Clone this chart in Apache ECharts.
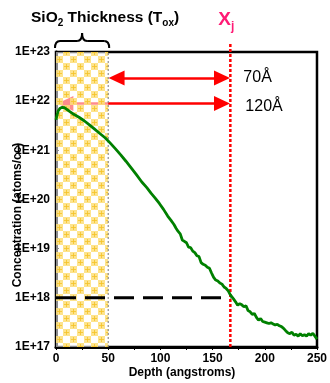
<!DOCTYPE html>
<html>
<head>
<meta charset="utf-8">
<script src="https://cdn.jsdelivr.net/npm/echarts@6/dist/echarts.min.js"></script>
<style>html,body{margin:0;padding:0;background:#fff;}#c{width:330px;height:383px;}</style>
</head>
<body>
<div id="c"></div>
<script>
// Depth (angstroms) and concentration (atoms/cc) read from the profile
var depth = [0,1,2,4,6,8,10,13,17,22,27,32,37,42,47,52,57,62,67,72,77,82,87,91,95,99,103,107,110,113,115,117,119,121,123,125,127,129,131,133,135,137,139,141,143,145,147,149,151,153,155,157,159,161,163,165,167,168,170,172,174,176,178,180,182,184,186,188,190,192,194,196,198,200,202,204,206,208,210,212,214,216,218,220,222,224,226,228,230,232,234,236,238,240,242,244,246,248,250];
var conc = [4.2e21,5.2e21,6.3e21,7.2e21,7.5e21,7.4e21,6.9e21,6.2e21,5.4e21,4.7e21,4.0e21,3.3e21,2.7e21,2.2e21,1.8e21,1.4e21,1.07e21,8.1e20,6.0e20,4.4e20,3.2e20,2.3e20,1.74e20,1.35e20,1.07e20,8.3e19,6.3e19,4.6e19,3.8e19,3.1e19,2.6e19,2.24e19,2.0e19,1.5e19,1.41e19,1.32e19,1.07e19,1.05e19,8.9e18,8.3e18,7.2e18,6.9e18,5.2e18,4.8e18,4.6e18,4.2e18,4.0e18,3.2e18,2.6e18,2.3e18,2.2e18,2.0e18,1.9e18,1.66e18,1.55e18,1.38e18,1.15e18,1.23e18,9.5e17,8.3e17,7.1e17,7.6e17,7.2e17,6.6e17,6.9e17,5.5e17,5.2e17,4.6e17,4.8e17,4.0e17,3.5e17,3.8e17,3.3e17,3.2e17,3.1e17,3.0e17,3.1e17,2.95e17,2.8e17,2.9e17,2.7e17,2.6e17,2.4e17,2.15e17,1.95e17,1.86e17,2.0e17,1.74e17,1.82e17,1.66e17,1.86e17,1.7e17,1.78e17,1.66e17,1.86e17,1.74e17,1.9e17,1.66e17,1.45e17];
var xTicks = [0, 50, 100, 150, 200, 250];
var yTicks = [1e17, 1e18, 1e19, 1e20, 1e21, 1e22, 1e23];
var toxDepth = 50;          // SiO2 thickness
var xjDepth = 167;          // junction depth
var xjTop = 1.6e23;         // top of Xj marker line (above frame)
var thresholdConc = 1e18;   // dashed level
var arrow70Conc = 2.95e22;
var arrow120Conc = 9e21;
var arrow120Start = 1;

var chart = echarts.init(document.getElementById('c'), null, {renderer: 'canvas'});

// checkerboard pattern for oxide region
var pc = document.createElement('canvas');
pc.width = 14; pc.height = 14;
var g = pc.getContext('2d');
g.fillStyle = 'rgba(255,255,255,0.55)';
g.fillRect(0, 0, 14, 14);
function cell(x, y) {
  g.fillStyle = 'rgba(253,222,120,0.85)';
  g.fillRect(x, y, 7, 7);
  g.fillStyle = 'rgba(245,195,40,0.8)';
  g.fillRect(x + 3, y + 1, 1, 5);
  g.fillRect(x + 1, y + 3, 5, 1);
}
cell(0, 0); cell(7, 7);

var boldFont = 'Liberation Sans, Arial, sans-serif';
var headLen = 8; // half arrowhead length in data units

var option = {
  animation: false,
  backgroundColor: '#fff',
  grid: {left: 56, right: 12, top: 52, bottom: 36, show: true, borderColor: '#000', borderWidth: 2.5, backgroundColor: 'transparent'},
  xAxis: {
    type: 'value', min: 0, max: 250, interval: 50,
    axisLine: {show: true, lineStyle: {color: '#000', width: 3}},
    axisTick: {show: true, length: 3, lineStyle: {color: '#000', width: 1}},
    minorTick: {show: true, splitNumber: 2, length: 3, lineStyle: {color: '#000', width: 1}},
    splitLine: {show: false},
    axisLabel: {color: '#000', fontWeight: 'bold', fontSize: 12, fontFamily: boldFont, margin: 6}
  },
  yAxis: {
    type: 'log', logBase: 10, min: yTicks[0], max: yTicks[yTicks.length - 1], splitNumber: 6,
    axisLine: {show: true, lineStyle: {color: '#000', width: 3}},
    axisTick: {show: true, inside: true, length: 3, lineStyle: {color: '#000'}},
    minorTick: {show: true, splitNumber: 9, length: 2, lineStyle: {color: '#000'}},
    splitLine: {show: false},
    axisLabel: {color: '#000', fontWeight: 'bold', fontSize: 12, fontFamily: boldFont, margin: 6,
      formatter: function (v) { return '1E+' + Math.round(Math.log10(v)); }}
  },
  series: [
    {
      name: 'arrows', type: 'line', data: [], z: 1,
      markLine: {
        silent: true, z: 1, symbol: ['triangle', 'triangle'], symbolSize: [15, 16],
        label: {show: false},
        lineStyle: {color: '#ff0000', width: 2.5, type: 'solid'},
        data: [
          [{coord: [toxDepth + headLen, arrow70Conc]}, {coord: [xjDepth - headLen, arrow70Conc]}],
          [{coord: [arrow120Start + headLen, arrow120Conc]}, {coord: [xjDepth - headLen, arrow120Conc]}]
        ]
      }
    },
    {
      name: 'oxide', type: 'line', data: [], z: 2,
      markArea: {
        silent: true, z: 2,
        itemStyle: {color: {image: pc, repeat: 'repeat'}},
        data: [[{xAxis: 0}, {xAxis: toxDepth}]]
      }
    },
    {
      name: 'oxideEdge', type: 'line', z: 3, symbol: 'none',
      data: [[toxDepth, yTicks[0]], [toxDepth, yTicks[yTicks.length - 1]]],
      lineStyle: {color: '#777', width: 1, type: [2, 2]}
    },
    {
      name: 'threshold', type: 'line', z: 4, symbol: 'none',
      data: [[0, thresholdConc], [xjDepth, thresholdConc]],
      lineStyle: {color: '#000', width: 3, type: [20, 9]}
    },
    {
      name: 'xj', type: 'line', z: 4, symbol: 'none', clip: false,
      data: [[xjDepth, yTicks[0]], [xjDepth, xjTop]],
      lineStyle: {color: '#ff0000', width: 2.5, type: [3, 2]}
    },
    {
      name: 'profile', type: 'line', z: 6, symbol: 'none', smooth: false,
      data: depth.map(function (d, i) { return [d, conc[i]]; }),
      lineStyle: {color: '#008000', width: 2.8}
    }
  ]
};
chart.setOption(option);

var p0 = chart.convertToPixel({gridIndex: 0}, [0, yTicks[yTicks.length - 1]]);
var p1 = chart.convertToPixel({gridIndex: 0}, [toxDepth, yTicks[yTicks.length - 1]]);
var pxj = chart.convertToPixel({gridIndex: 0}, [xjDepth, arrow70Conc]);
var p120 = chart.convertToPixel({gridIndex: 0}, [xjDepth, arrow120Conc]);
var bx0 = p0[0] - 1, bx1 = p1[0] + 1, bm = (bx0 + bx1) / 2;
var yb = p0[1] - 4, ya = p0[1] - 11, yt = p0[1] - 19;
var bs = {fill: null, stroke: '#000', lineWidth: 2};
function qc(x1, y1, cx, cy, x2, y2) {
  return {type: 'bezierCurve', z: 10, shape: {x1: x1, y1: y1, x2: x2, y2: y2, cpx1: cx, cpy1: cy}, style: bs};
}
function ln(x1, y1, x2, y2) {
  return {type: 'line', z: 10, shape: {x1: x1, y1: y1, x2: x2, y2: y2}, style: bs};
}

chart.setOption({
  graphic: [
    qc(bx0, yb, bx0, ya, bx0 + 5, ya),
    ln(bx0 + 5, ya, bm - 5, ya),
    qc(bm - 5, ya, bm, ya, bm, yt),
    qc(bm, yt, bm, ya, bm + 5, ya),
    ln(bm + 5, ya, bx1 - 5, ya),
    qc(bx1 - 5, ya, bx1, ya, bx1, yb),
    {type: 'text', left: 31, top: 10, z: 10, style: {
      text: '{a|SiO}{s|2}{a| Thickness (T}{s|ox}{a|)}',
      rich: {
        a: {fontSize: 15.5, fontWeight: 'bold', fontFamily: boldFont, fill: '#000'},
        s: {fontSize: 10, fontWeight: 'bold', fontFamily: boldFont, fill: '#000', padding: [10, 0, 0, 0]}
      }}},
    {type: 'text', left: pxj[0] - 12, top: 10, z: 10, style: {
      text: '{a|X}{s|j}',
      rich: {
        a: {fontSize: 19, fontWeight: 'bold', fontFamily: boldFont, fill: '#ff1a75'},
        s: {fontSize: 12, fontWeight: 'bold', fontFamily: boldFont, fill: '#ff1a75', padding: [14, 0, 0, 0]}
      }}},
    {type: 'text', x: pxj[0] + 13, y: pxj[1], z: 10, style: {
      text: '70Å', fontSize: 16, fontFamily: boldFont, fill: '#000', verticalAlign: 'middle'}},
    {type: 'text', x: p120[0] + 15, y: p120[1] + 3, z: 10, style: {
      text: '120Å', fontSize: 16, fontFamily: boldFont, fill: '#000', verticalAlign: 'middle'}},
    {type: 'text', x: 18, y: 215, rotation: Math.PI / 2, z: 10, style: {
      text: 'Concentration (atoms/cc)', fontSize: 12, fontWeight: 'bold', fontFamily: boldFont, fill: '#000',
      align: 'center', verticalAlign: 'middle'}},
    {type: 'text', x: 182, y: 373, z: 10, style: {
      text: 'Depth (angstroms)', fontSize: 12, fontWeight: 'bold', fontFamily: boldFont, fill: '#000',
      align: 'center', verticalAlign: 'middle'}}
  ]
});
</script>
</body>
</html>
